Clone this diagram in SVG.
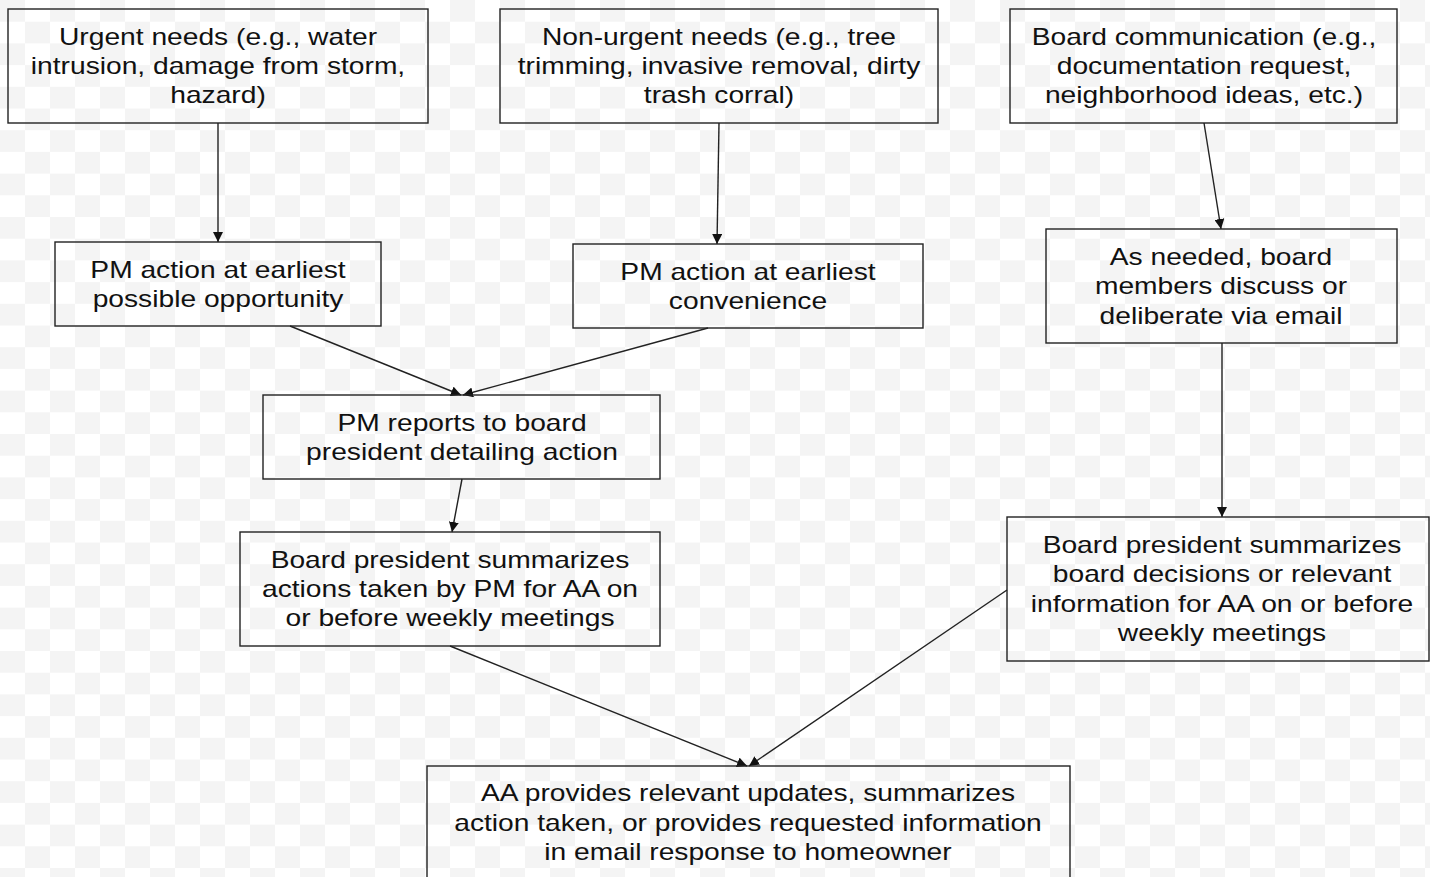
<svg xmlns="http://www.w3.org/2000/svg" width="1430" height="877" viewBox="0 0 1430 877">
<defs>
<pattern id="checker" x="0" y="0" width="50" height="43.4" patternUnits="userSpaceOnUse">
<rect width="50" height="43.4" fill="#ffffff"/>
<rect x="0" y="0" width="25" height="21.7" fill="#f4f4f4"/>
<rect x="25" y="21.7" width="25" height="21.7" fill="#f4f4f4"/>
</pattern>
<marker id="arr" viewBox="0 0 10 10" refX="10" refY="5" markerWidth="10" markerHeight="10" markerUnits="userSpaceOnUse" orient="auto">
<path d="M0,0 L10,5 L0,10 z" fill="#111"/>
</marker>
<style>
.box{fill:none;stroke:#222;stroke-width:1.4}
.t{font-family:"Liberation Sans",Arial,sans-serif;font-size:24px;fill:#111;text-anchor:middle}
.c{fill:none;stroke:#222;stroke-width:1.4;marker-end:url(#arr)}
</style>
</defs>
<rect width="1430" height="877" fill="url(#checker)"/>
<g id="connectors">
<line class="c" x1="218" y1="123" x2="218" y2="242"/>
<line class="c" x1="719" y1="123" x2="717" y2="244"/>
<line class="c" x1="1204" y1="123" x2="1221" y2="229"/>
<line class="c" x1="290" y1="326" x2="461" y2="395"/>
<line class="c" x1="708" y1="328" x2="463" y2="395"/>
<line class="c" x1="1222" y1="343" x2="1222" y2="517"/>
<line class="c" x1="462" y1="479" x2="452" y2="532"/>
<line class="c" x1="450" y1="646" x2="747" y2="766"/>
<line class="c" x1="1007" y1="590" x2="749" y2="766"/>
</g>
<g id="n1"><rect class="box" x="8" y="9" width="420" height="114"/>
<g transform="translate(218,0) scale(1.175,1)">
<text class="t" x="0" y="45">Urgent needs (e.g., water</text>
<text class="t" x="0" y="74">intrusion, damage from storm,</text>
<text class="t" x="0" y="103">hazard)</text></g></g>
<g id="n2"><rect class="box" x="500" y="9" width="438" height="114"/>
<g transform="translate(719,0) scale(1.175,1)">
<text class="t" x="0" y="45">Non-urgent needs (e.g., tree</text>
<text class="t" x="0" y="74">trimming, invasive removal, dirty</text>
<text class="t" x="0" y="103">trash corral)</text></g></g>
<g id="n3"><rect class="box" x="1010" y="9" width="387" height="114"/>
<g transform="translate(1204,0) scale(1.175,1)">
<text class="t" x="0" y="45">Board communication (e.g.,</text>
<text class="t" x="0" y="74">documentation request,</text>
<text class="t" x="0" y="103">neighborhood ideas, etc.)</text></g></g>
<g id="n4"><rect class="box" x="55" y="242" width="326" height="84"/>
<g transform="translate(218,0) scale(1.175,1)">
<text class="t" x="0" y="278">PM action at earliest</text>
<text class="t" x="0" y="307">possible opportunity</text></g></g>
<g id="n5"><rect class="box" x="573" y="244" width="350" height="84"/>
<g transform="translate(748,0) scale(1.175,1)">
<text class="t" x="0" y="280">PM action at earliest</text>
<text class="t" x="0" y="309">convenience</text></g></g>
<g id="n6"><rect class="box" x="1046" y="229" width="351" height="114"/>
<g transform="translate(1221,0) scale(1.175,1)">
<text class="t" x="0" y="265">As needed, board</text>
<text class="t" x="0" y="294">members discuss or</text>
<text class="t" x="0" y="324">deliberate via email</text></g></g>
<g id="n7"><rect class="box" x="263" y="395" width="397" height="84"/>
<g transform="translate(462,0) scale(1.175,1)">
<text class="t" x="0" y="431">PM reports to board</text>
<text class="t" x="0" y="460">president detailing action</text></g></g>
<g id="n8"><rect class="box" x="240" y="532" width="420" height="114"/>
<g transform="translate(450,0) scale(1.175,1)">
<text class="t" x="0" y="568">Board president summarizes</text>
<text class="t" x="0" y="597">actions taken by PM for AA on</text>
<text class="t" x="0" y="626">or before weekly meetings</text></g></g>
<g id="n9"><rect class="box" x="1007" y="517" width="422" height="144"/>
<g transform="translate(1222,0) scale(1.175,1)">
<text class="t" x="0" y="553">Board president summarizes</text>
<text class="t" x="0" y="582">board decisions or relevant</text>
<text class="t" x="0" y="612">information for AA on or before</text>
<text class="t" x="0" y="641">weekly meetings</text></g></g>
<g id="n10"><rect class="box" x="427" y="766" width="643" height="120"/>
<g transform="translate(748,0) scale(1.175,1)">
<text class="t" x="0" y="801">AA provides relevant updates, summarizes</text>
<text class="t" x="0" y="831">action taken, or provides requested information</text>
<text class="t" x="0" y="860">in email response to homeowner</text></g></g>
</svg>
